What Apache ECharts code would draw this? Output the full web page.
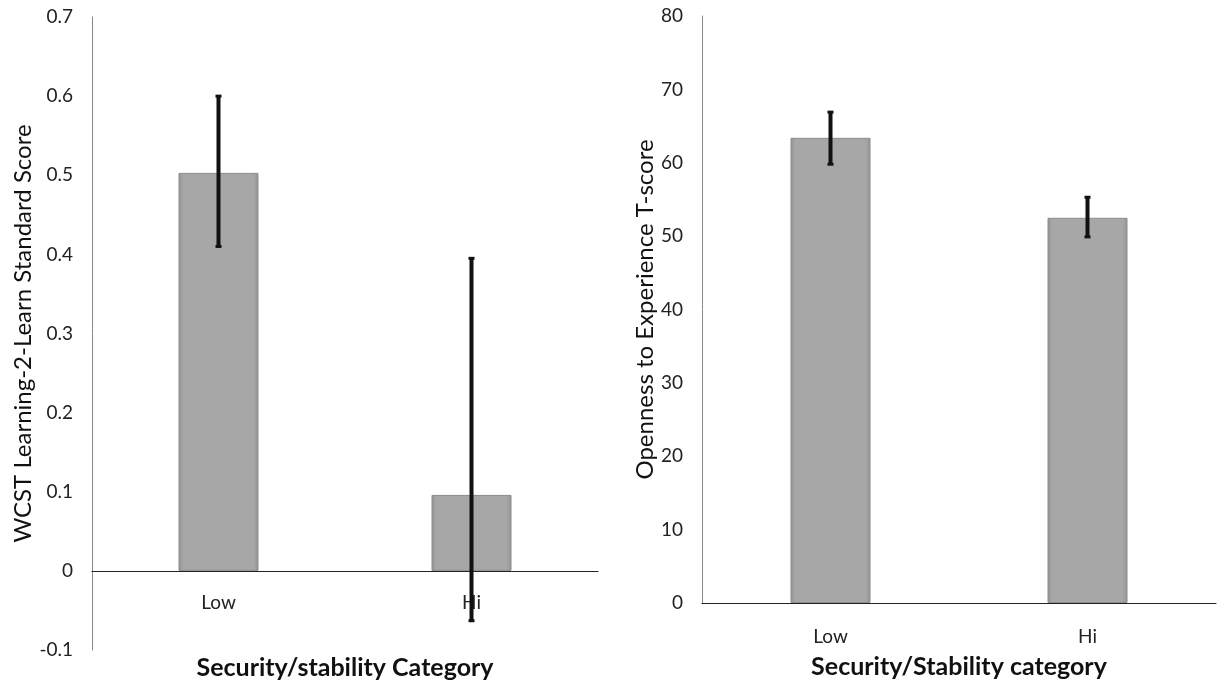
<!DOCTYPE html>
<html>
<head>
<meta charset="utf-8">
<script src="https://cdn.jsdelivr.net/npm/echarts@6/dist/echarts.min.js"></script>
<style>
  html, body { margin: 0; padding: 0; background: #fff; }
  #chart { width: 1224px; height: 685px; }
</style>
</head>
<body>
<div id="chart"></div>
<script>
// categories
const categories = ["Low", "Hi"];

// left panel: WCST learning-2-learn
const learnMeans = [0.503, 0.096];
const learnErrLow = [0.41, -0.063];
const learnErrHigh = [0.6, 0.395];
const learnAxis = [-0.1, 0.7, 0.1]; // min, max, step

// right panel: openness T-score
const openMeans = [63.4, 52.5];
const openErrLow = [59.8, 49.9];
const openErrHigh = [66.9, 55.3];
const openAxis = [0, 80, 10];

const FONT = "Lato";

const myChart = echarts.init(document.getElementById("chart"));

// bar fill with slightly darker edges
const barColor = new echarts.graphic.LinearGradient(0, 0, 1, 0, [
  { offset: 0, color: "#939393" },
  { offset: 0.06, color: "#a7a7a7" },
  { offset: 0.94, color: "#a7a7a7" },
  { offset: 1, color: "#939393" },
]);

// error bar: vertical line + small caps
const renderErr = (params, api) => {
  const lo = api.coord([api.value(0), api.value(1)]);
  const hi = api.coord([api.value(0), api.value(2)]);
  const capW = 3;
  return {
    type: "group",
    children: [
      { type: "line", shape: { x1: lo[0], y1: lo[1], x2: hi[0], y2: hi[1] }, style: { stroke: "#111", lineWidth: 4 } },
      { type: "line", shape: { x1: hi[0] - capW, y1: hi[1], x2: hi[0] + capW, y2: hi[1] }, style: { stroke: "#111", lineWidth: 3 } },
      { type: "line", shape: { x1: lo[0] - capW, y1: lo[1], x2: lo[0] + capW, y2: lo[1] }, style: { stroke: "#111", lineWidth: 3 } },
    ],
  };
};

const xAxisBase = (gridIndex, name, gap, labelMargin) => ({
  type: "category",
  gridIndex: gridIndex,
  data: categories,
  axisTick: { show: false },
  axisLine: { lineStyle: { color: "#222", width: 1 } },
  axisLabel: { color: "#222", fontSize: 19, fontFamily: FONT, margin: labelMargin },
  name: name,
  nameLocation: "middle",
  nameGap: gap,
  nameMoveOverlap: false,
  nameTextStyle: { color: "#111", fontSize: 25, fontWeight: "bold", fontFamily: FONT },
});

const yAxisBase = (gridIndex, range, name, gap) => ({
  type: "value",
  gridIndex: gridIndex,
  min: range[0],
  max: range[1],
  interval: range[2],
  splitLine: { show: false },
  axisTick: { show: false },
  axisLine: { show: true, lineStyle: { color: "#888", width: 1 } },
  axisLabel: { color: "#222", fontSize: 19, fontFamily: FONT, margin: 19 },
  name: name,
  nameLocation: "middle",
  nameGap: gap,
  nameTextStyle: { color: "#111", fontSize: 24, fontFamily: FONT },
});

const options = {
  animation: false,
  grid: [
    { left: 92, right: 626, top: 17, bottom: 35, outerBoundsMode: "none" },
    { left: 702, right: 8, top: 16, bottom: 82, outerBoundsMode: "none" },
  ],
  xAxis: [
    // labels sit just under the zero line, above the -0.1 floor
    xAxisBase(0, "Security/stability Category", 5, -57),
    xAxisBase(1, "Security/Stability category", 51, 24),
  ],
  yAxis: [
    yAxisBase(0, learnAxis, "WCST Learning-2-Learn Standard Score", 57),
    yAxisBase(1, openAxis, "Openness to Experience T-score", 45),
  ],
  series: [
    {
      type: "bar",
      xAxisIndex: 0,
      yAxisIndex: 0,
      data: learnMeans,
      barWidth: 80,
      itemStyle: { color: barColor, borderColor: "#8c8c8c", borderWidth: 1 },
    },
    {
      type: "custom",
      xAxisIndex: 0,
      yAxisIndex: 0,
      renderItem: renderErr,
      data: categories.map((c, i) => [i, learnErrLow[i], learnErrHigh[i]]),
      z: 10,
    },
    {
      type: "bar",
      xAxisIndex: 1,
      yAxisIndex: 1,
      data: openMeans,
      barWidth: 80,
      itemStyle: { color: barColor, borderColor: "#8c8c8c", borderWidth: 1 },
    },
    {
      type: "custom",
      xAxisIndex: 1,
      yAxisIndex: 1,
      renderItem: renderErr,
      data: categories.map((c, i) => [i, openErrLow[i], openErrHigh[i]]),
      z: 10,
    },
  ],
};

myChart.setOption(options);
</script>
</body>
</html>
